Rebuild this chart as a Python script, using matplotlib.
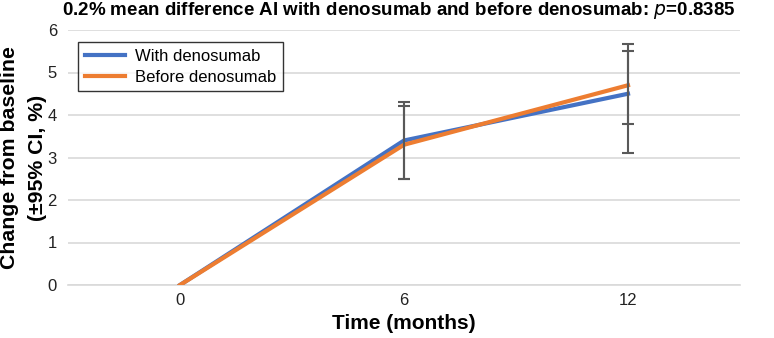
import matplotlib
matplotlib.use("Agg")
import matplotlib.pyplot as plt
import numpy as np

categories = ["0", "6", "12"]
with_deno = [0.0, 3.4, 4.5]
with_lo = [0.0, 2.5, 3.8]
with_hi = [0.0, 4.3, 5.5]
before_deno = [0.0, 3.3, 4.7]
before_lo = [0.0, 2.5, 3.1]
before_hi = [0.0, 4.22, 5.68]
yticks = [0, 1, 2, 3, 4, 5, 6]

plt.rcParams['font.family'] = ['Liberation Sans', 'DejaVu Sans']

fig = plt.figure(figsize=(7.74, 3.38), dpi=100)
ax = fig.add_axes([68/774, 53/338, (740-68)/774, (285-30)/338])

x = np.arange(len(categories))
blue = "#4472C4"
orange = "#ED7D31"
ecol = "#595959"

ax.plot(x, with_deno, color=blue, lw=3, label="With denosumab", zorder=3)
ax.plot(x, before_deno, color=orange, lw=3, label="Before denosumab", zorder=4)

for i in range(1, len(x)):
    for lo, hi in ((with_lo, with_hi), (before_lo, before_hi)):
        ax.errorbar([x[i]], [(lo[i]+hi[i])/2], yerr=[[(hi[i]-lo[i])/2], [(hi[i]-lo[i])/2]],
                    fmt='none', ecolor=ecol, elinewidth=1.5, capsize=4, capthick=1.5, zorder=5)

ax.set_xlim(-0.5, 2.5)
ax.set_ylim(0, 6)
ax.set_yticks(yticks)
ax.set_xticks(x)
ax.set_xticklabels(categories)
ax.grid(axis='y', color='#d9d9d9', lw=1.2)
ax.set_axisbelow(True)
for s in ['top', 'right', 'left']:
    ax.spines[s].set_visible(False)
ax.spines['bottom'].set_color('#d9d9d9')
ax.spines['bottom'].set_linewidth(1.2)
ax.tick_params(axis='both', length=0, labelsize=12, colors='#222222', pad=8)
ax.tick_params(axis='x', pad=6)

ax.set_xlabel("Time (months)", fontsize=15, fontweight='bold', labelpad=4)
fig.text(0.0305, (338-158)/338, "Change from baseline\n(±95% CI, %)", rotation=90,
         ha='center', va='center', fontsize=15.3, fontweight='bold', linespacing=1.55)

leg = ax.legend(loc='upper left', bbox_to_anchor=(10/672, 1 - 12/255), fontsize=12,
                frameon=True, fancybox=False, edgecolor='black', handlelength=2.4,
                borderpad=0.4, labelspacing=0.35, handletextpad=0.6, borderaxespad=0)
leg.get_frame().set_linewidth(1.0)

fig.text(0.515, 0.968, "0.2% mean difference AI with denosumab and before denosumab: $\\mathbf{\\mathit{p}}$=0.8385",
         ha='center', va='center', fontsize=13.5, fontweight='bold')

fig.savefig("out.png", dpi=100)
